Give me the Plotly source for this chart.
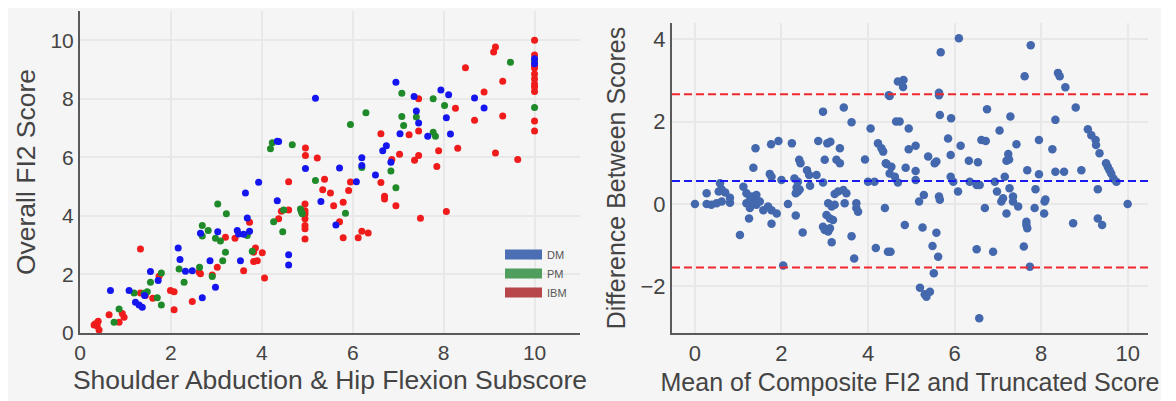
import plotly.graph_objects as go

# ---------------- Left panel data (Shoulder/Hip subscore vs Overall FI2) ----------------
dm_x = [8.68, 8.89, 8.15, 8.06, 8.11, 7.94, 7.65, 7.45, 7.40, 7.35, 6.95, 7.04, 6.74, 6.66, 6.84, 6.50,
        5.18, 6.20, 6.20, 5.71, 6.08, 4.96, 4.37, 4.34, 3.93, 3.64, 4.34, 3.68, 3.73, 3.46, 3.49, 3.60,
        4.59, 4.59, 2.65, 3.03, 3.53, 2.86, 2.98, 2.69, 2.47, 2.32, 2.20, 2.16, 1.55, 1.72, 1.42, 1.08,
        1.22, 1.30, 1.37, 0.67, 5.30, 5.63, 10.0, 10.0]
dm_y = [8.03, 7.69, 6.80, 7.35, 8.14, 8.30, 6.72, 7.17, 7.58, 8.08, 8.57, 6.81, 6.40, 6.23, 5.83, 5.40,
        8.02, 5.99, 5.72, 5.64, 5.17, 5.62, 6.54, 6.55, 5.15, 4.78, 4.52, 3.93, 3.48, 3.50, 3.38, 3.37,
        2.67, 2.32, 3.41, 3.46, 2.47, 2.47, 1.56, 1.20, 2.13, 2.11, 2.51, 2.90, 2.10, 1.79, 1.28, 1.45,
        1.05, 0.96, 0.88, 1.45, 4.49, 3.69, 9.37, 9.20]

pm_x = [9.47, 10.0, 10.0, 8.02, 7.77, 7.77, 7.82, 7.40, 7.08, 7.08, 7.12, 6.84, 6.95, 6.29, 5.95, 6.20,
        5.18, 4.67, 4.19, 4.23, 3.68, 4.26, 4.48, 4.46, 3.03, 3.22, 2.69, 2.82, 2.69, 2.98, 3.09, 3.20,
        3.14, 3.79, 2.63, 2.91, 2.18, 2.29, 1.79, 1.55, 1.70, 1.79, 1.48, 1.41, 1.19, 0.86, 0.75, 4.85,
        4.89, 4.87, 5.84]
pm_y = [9.25, 9.30, 7.70, 7.77, 8.00, 6.86, 6.72, 7.38, 8.19, 7.40, 7.09, 5.53, 4.96, 7.52, 7.12, 5.65,
        5.21, 6.43, 6.29, 6.50, 3.33, 3.80, 4.20, 3.46, 4.41, 4.07, 3.67, 3.50, 3.31, 3.24, 3.14, 2.76,
        2.47, 2.79, 2.25, 1.93, 2.19, 1.73, 2.05, 1.73, 1.20, 0.96, 1.41, 1.36, 1.37, 0.82, 0.37, 4.24,
        4.07, 4.14, 4.09]

ibm_x = [10.0, 9.14, 9.10, 10.0, 10.0, 10.0, 10.0, 10.0, 10.0, 10.0, 10.0, 10.0, 8.48, 9.30, 8.89, 9.30,
         8.68, 9.14, 9.63, 8.31, 7.89, 7.85, 8.26, 7.45, 7.45, 7.24, 6.62, 7.03, 7.45, 7.36, 6.86, 6.62,
         6.70, 5.95, 5.91, 5.38, 5.34, 5.51, 4.96, 4.96, 5.22, 4.59, 3.73, 3.41, 4.37, 4.43, 4.59, 3.20,
         3.86, 3.82, 4.01, 3.82, 3.90, 3.60, 4.06, 3.02, 2.91, 2.47, 2.62, 2.65, 1.99, 2.07, 2.07, 1.74,
         1.60, 1.44, 1.33, 1.33, 0.64, 0.93, 0.97, 0.86, 0.34, 0.40, 0.38, 0.42, 0.31, 4.95, 4.95, 4.95,
         4.95, 4.95, 4.95, 4.95, 5.58, 5.79, 5.71, 5.79, 6.12, 6.20, 6.34, 6.70, 6.95, 7.49, 8.06, 10.0,
         10.0]
ibm_y = [10.0, 9.77, 9.60, 9.50, 9.13, 8.85, 8.68, 8.51, 8.40, 8.25, 7.24, 6.90, 9.06, 8.60, 8.23, 7.41,
         7.27, 6.15, 5.93, 6.31, 6.23, 5.69, 7.68, 6.90, 8.00, 6.77, 6.81, 6.11, 6.06, 5.90, 5.93, 5.14,
         4.67, 5.16, 4.87, 5.25, 4.89, 4.78, 6.32, 6.06, 5.98, 5.17, 3.78, 3.24, 3.90, 4.16, 4.20, 3.27,
         2.90, 2.76, 2.74, 2.44, 2.47, 2.13, 1.88, 2.25, 1.98, 1.08, 2.08, 2.02, 1.45, 1.41, 0.79, 1.94,
         1.19, 1.28, 1.37, 2.87, 0.62, 0.67, 0.54, 0.37, 0.32, 0.40, 0.24, 0.10, 0.27, 4.41, 4.18, 4.07,
         3.67, 3.56, 3.21, 3.90, 4.35, 4.47, 3.80, 3.25, 3.25, 3.48, 3.42, 4.58, 4.35, 3.92, 4.15, 9.30,
         9.05]

legend_names = ["DM", "PM", "IBM"]

# ---------------- Right panel data (Bland-Altman) ----------------
ba_mean = [0.00, 0.27, 0.38, 0.50, 0.62, 0.81, 0.27, 0.58, 0.62, 0.70, 0.55, 0.81, 1.04, 1.12, 1.19, 1.27,
           1.35, 1.42, 1.19, 1.27, 1.35, 1.42, 1.50, 1.25, 1.58, 1.69, 1.77, 1.77, 1.89, 2.04, 2.15, 2.33,
           2.49, 2.96, 3.00, 3.08, 3.12, 3.16, 3.04, 3.12, 3.19, 3.08, 3.16, 3.23, 3.46, 3.62, 3.68, 3.73,
           3.73, 3.77, 4.18, 4.39, 4.46, 4.52, 4.85, 5.18, 5.26, 5.58, 5.49, 5.62, 5.52, 5.20, 5.31, 5.43,
           5.35, 5.66, 6.57, 6.51, 6.89, 6.70, 7.08, 7.20, 7.35, 7.47, 7.60, 7.66, 7.68, 7.66, 7.74, 7.85,
           8.07, 8.08, 8.74, 9.31, 9.41, 10.00,
           2.96, 3.44, 3.62, 4.06, 4.48, 1.40, 1.76, 1.93, 2.24, 2.85, 3.06, 3.13, 3.35, 2.41, 2.44, 3.00,
           3.27, 3.35, 3.93, 4.23, 4.31, 4.35, 4.41, 1.35, 1.73, 1.77, 2.00, 2.30, 2.38, 2.59, 2.64, 2.81,
           2.96, 2.66, 2.35, 2.38, 2.33, 2.42, 3.23, 3.31, 3.43, 3.50, 4.00, 4.15,
           6.10, 5.68, 7.76, 7.62, 8.39, 8.43, 8.56, 8.80, 8.33, 9.08, 9.16, 9.26, 9.27, 9.35, 9.50, 9.54,
           9.58, 9.62, 9.67, 9.74, 7.95, 8.26, 8.33, 8.53, 8.93, 9.31, 7.68, 7.95, 7.87, 8.10, 7.43, 7.29,
           7.04, 6.75, 7.24, 7.20, 7.26, 6.62, 6.72, 6.33, 6.54, 6.14, 5.91, 5.85, 5.92, 5.66, 5.64, 5.64,
           4.69, 4.82, 4.81, 4.65, 4.73, 4.94, 4.50, 4.94, 5.10, 5.39, 5.54, 5.58, 4.87, 5.10, 4.43, 4.54,
           4.50, 4.62, 4.69, 5.91, 5.97, 6.35, 6.51, 6.58, 6.08, 5.64, 5.29, 6.93, 7.16, 6.98, 7.27, 7.12,
           7.35, 5.10]
ba_diff = [0.00, 0.00, -0.02, 0.02, 0.06, 0.03, 0.26, 0.50, 0.35, 0.28, 0.30, 0.15, -0.75, 0.42, 0.26, 0.18,
           0.18, 0.22, 0.02, -0.10, 0.06, -0.02, 0.06, -0.35, -0.15, -0.06, -0.15, -0.48, -0.23, -1.49, 0.00, -0.28,
           -0.69, -0.55, -0.63, -0.67, -0.59, -0.93, -0.27, -0.35, -0.39, 0.02, -0.06, -0.02, 0.02, -0.78, -1.32, 0.02,
           -0.10, -0.19, -1.07, -0.10, -1.16, -1.16, -0.51, 0.06, -0.57, -0.70, -1.02, -1.28, -1.68, -2.03, -2.19, -2.13,
           -2.25, 0.10, -2.77, -1.10, -1.16, -0.10, 0.06, -0.23, 0.06, -0.06, -1.03, -0.43, -0.59, -0.51, -1.52, -0.10,
           -0.23, 0.06, -0.47, -0.35, -0.51, 0.00,
           2.24, 2.34, 1.98, 1.83, 2.64, 1.35, 1.45, 1.53, 1.47, 1.53, 1.47, 1.51, 1.35, 1.07, 0.99, 1.07,
           1.07, 0.99, 1.08, 1.47, 1.35, 1.27, 0.99, 0.88, 0.73, 0.66, 0.58, 0.62, 0.54, 0.82, 0.70, 0.70,
           0.52, 0.44, 0.40, 0.30, 0.26, 0.35, 0.24, 0.30, 0.34, 0.26, 0.54, 0.54,
           4.02, 3.68, 3.85, 3.10, 3.18, 3.10, 2.83, 2.34, 2.04, 1.81, 1.67, 1.55, 1.43, 1.23, 0.99, 0.90,
           0.82, 0.74, 0.62, 0.54, 1.55, 1.33, 0.78, 0.78, 0.82, 0.36, 0.82, 0.72, 0.36, 0.11, 1.45, 2.12,
           1.78, 2.30, 1.21, 1.05, 1.08, 1.55, 1.53, 1.05, 1.01, 1.41, 1.19, 1.59, 2.08, 2.16, 2.70, 2.64,
           2.97, 3.01, 2.84, 2.00, 2.00, 1.83, 2.62, 1.33, 1.41, 1.15, 0.99, 1.03, 0.88, 0.80, 0.97, 0.90,
           0.74, 0.66, 0.52, 0.66, 0.54, 0.54, 0.46, 0.46, 0.30, 0.18, 0.22, 0.54, 0.66, 0.30, 0.38, 0.14,
           0.18, 0.58]

mean_diff = 0.56
loa_upper = 2.66
loa_lower = -1.54

tick_vals_left = [0, 2, 4, 6, 8, 10]
tick_vals_right_y = [-2, 0, 2, 4]

# ---------------- Figure ----------------
# The page body keeps the browser's default 8px margin, so the figure starts at (8, 8) on screen.
W, H = 1153, 393
ML, MR, MT, MB = 72, 13, 3, 68
PW, PH = W - ML - MR, H - MT - MB

BG = "#f5f5f5"
GRID = "#e8e8e8"
AXC = "#5a5a5a"
TXT = "#444444"
FONT = "Liberation Sans, Arial, sans-serif"

fig = go.Figure()

fig.add_trace(go.Scatter(x=ibm_x, y=ibm_y, mode="markers", marker=dict(color="#f01c1c", size=7),
                         showlegend=False, xaxis="x", yaxis="y"))
fig.add_trace(go.Scatter(x=pm_x, y=pm_y, mode="markers", marker=dict(color="#1f8a2a", size=7),
                         showlegend=False, xaxis="x", yaxis="y"))
fig.add_trace(go.Scatter(x=dm_x, y=dm_y, mode="markers", marker=dict(color="#1515f0", size=7),
                         showlegend=False, xaxis="x", yaxis="y"))

legend_colors = ["#4c6fb3", "#4f9e5e", "#b8474c"]
for nm, col in zip(legend_names, legend_colors):
    fig.add_trace(go.Scatter(x=[None], y=[None], mode="lines", name=nm,
                             line=dict(color=col, width=10), legendgroup=nm,
                             xaxis="x", yaxis="y"))

fig.add_trace(go.Scatter(x=ba_mean, y=ba_diff, mode="markers",
                         marker=dict(color="#4468ad", size=8.5),
                         showlegend=False, xaxis="x2", yaxis="y2"))

for val, col in [(loa_upper, "#f2262f"), (mean_diff, "#1a1af0"), (loa_lower, "#f2262f")]:
    fig.add_shape(type="line", xref="x2 domain", yref="y2", x0=0, x1=1, y0=val, y1=val,
                  line=dict(color=col, width=2, dash="8px,4px"))

axis_common = dict(showline=True, linecolor=AXC, linewidth=2, showgrid=True, gridcolor=GRID,
                   gridwidth=1.5, zeroline=False, ticks="")

left_tick = dict(size=21, color=TXT)
right_tick = dict(size=22, color=TXT)
left_title = dict(size=26.5, color=TXT)
right_title = dict(size=25, color=TXT)

fig.update_layout(
    width=W, height=H,
    margin=dict(l=ML, r=MR, t=MT, b=MB),
    paper_bgcolor=BG, plot_bgcolor=BG,
    font=dict(family=FONT, color=TXT),
    xaxis=dict(domain=[0, 500 / PW], range=[0, 11], tickvals=tick_vals_left, anchor="y",
               tickfont=left_tick,
               title=dict(text="Shoulder Abduction & Hip Flexion Subscore", standoff=7, font=left_title),
               **axis_common),
    yaxis=dict(domain=[0, 1], range=[0, 11], tickvals=tick_vals_left, anchor="x",
               tickfont=left_tick,
               title=dict(text="Overall FI2 Score", standoff=7, font=left_title), **axis_common),
    xaxis2=dict(domain=[(664 - ML) / PW, 1], range=[-0.53, 10.47], tickvals=tick_vals_left, anchor="y2",
                tickfont=right_tick,
                title=dict(text="Mean of Composite FI2 and Truncated Score", standoff=8, font=right_title),
                **axis_common),
    yaxis2=dict(domain=[0, (325 - 15) / PH], range=[-3.13, 4.39], tickvals=tick_vals_right_y, anchor="x2",
                tickfont=right_tick,
                title=dict(text="Difference Between Scores", standoff=8, font=right_title), **axis_common),
    legend=dict(x=(492 - ML) / PW, y=(325 - 232) / PH, xanchor="left", yanchor="top",
                bgcolor="rgba(0,0,0,0)", font=dict(size=11, color="#555555"),
                tracegroupgap=0, itemclick=False, itemwidth=37),
)

fig.write_html("out.html")
